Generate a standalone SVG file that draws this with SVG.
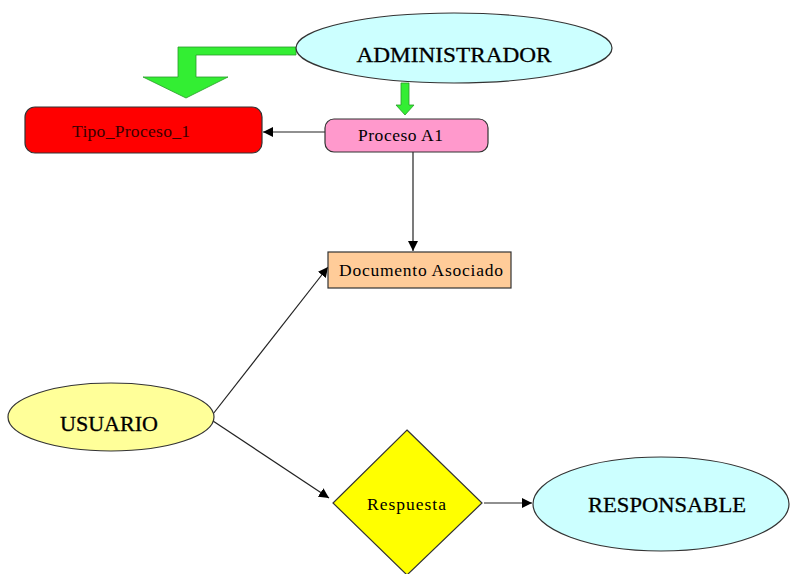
<svg xmlns="http://www.w3.org/2000/svg" width="791" height="574" viewBox="0 0 791 574">
<defs>
<style>
.t{font-family:"Liberation Serif","Times New Roman",serif;fill:#000}
.big{font-size:22px;stroke:#000;stroke-width:0.3}
.sm{font-size:17.5px}
.ln{stroke:#222;stroke-width:1.2;fill:none}
.node{stroke:#333;stroke-width:1.2}
.grn{fill:#33ee33;stroke:#2a9a2a;stroke-width:0.8}
</style>
<marker id="ah" viewBox="0 0 10 10" refX="10" refY="5" markerWidth="10" markerHeight="10" markerUnits="userSpaceOnUse" orient="auto">
<path d="M0,0 L10,5 L0,10 z" fill="#000"/>
</marker>
</defs>
<rect width="791" height="574" fill="#fff"/>
<g id="connectors">
<path class="grn" d="M296,47 L178,47 L178,77 L143,77 L186,98 L228,77 L196,77 L196,55 L296,55 z"/>
<path class="grn" d="M401,83 L409,83 L409,105 L414,105 L405,115 L396,105 L401,105 z"/>
<line class="ln" x1="325" y1="132" x2="263" y2="132" marker-end="url(#ah)"/>
<line class="ln" x1="413" y1="152" x2="413" y2="251" marker-end="url(#ah)"/>
<line class="ln" x1="213" y1="414" x2="328" y2="267" marker-end="url(#ah)"/>
<line class="ln" x1="213" y1="421" x2="329" y2="498" marker-end="url(#ah)"/>
<line class="ln" x1="484" y1="503" x2="532" y2="503" marker-end="url(#ah)"/>
</g>
<g id="administrador">
<ellipse class="node" cx="454" cy="48" rx="158" ry="35" fill="#ccffff"/>
<text class="t big" x="454" y="62" text-anchor="middle" textLength="195" lengthAdjust="spacingAndGlyphs">ADMINISTRADOR</text>
</g>
<g id="tipo_proceso">
<rect class="node" x="25" y="107" width="237" height="46" rx="10" fill="#ff0000"/>
<text class="t sm" x="72" y="137" textLength="118" lengthAdjust="spacing" style="fill:#3a0000">Tipo_Proceso_1</text>
</g>
<g id="proceso_a1">
<rect class="node" x="325" y="119" width="163" height="33" rx="9" fill="#ff99cc"/>
<text class="t sm" x="358" y="141" textLength="85" lengthAdjust="spacing">Proceso A1</text>
</g>
<g id="documento">
<rect class="node" x="328" y="252" width="183" height="36" fill="#ffcc99"/>
<text class="t sm" x="339" y="276" textLength="164" lengthAdjust="spacing">Documento Asociado</text>
</g>
<g id="usuario">
<ellipse class="node" cx="111" cy="417" rx="103" ry="34" fill="#ffff99"/>
<text class="t big" x="60" y="431" textLength="98" lengthAdjust="spacingAndGlyphs">USUARIO</text>
</g>
<g id="respuesta">
<path class="node" d="M407,430 L482,503 L407,575 L333,503 z" fill="#ffff00"/>
<text class="t sm" x="367" y="510" textLength="79" lengthAdjust="spacing">Respuesta</text>
</g>
<g id="responsable">
<ellipse class="node" cx="661" cy="504" rx="128" ry="47" fill="#ccffff"/>
<text class="t big" x="588" y="512" textLength="158" lengthAdjust="spacingAndGlyphs">RESPONSABLE</text>
</g>
</svg>
